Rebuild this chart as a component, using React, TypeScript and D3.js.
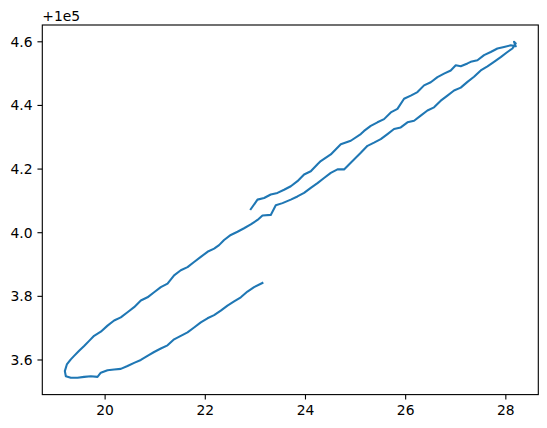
import React from "react";
import * as d3 from "d3";

const Y_OFFSET = 1e5;
const OFFSET_LABEL = "+1e5";

// x values of the path (in order)
const xValues = [
  23.14, 22.974, 22.842, 22.709, 22.575, 22.443, 22.309, 22.176, 22.044, 21.91,
  21.776, 21.645, 21.511, 21.377, 21.246, 21.112, 20.978, 20.846, 20.713, 20.579,
  20.447, 20.313, 20.18, 20.048, 19.914, 19.848, 19.715, 19.581, 19.449, 19.315,
  19.216, 19.196, 19.236, 19.315, 19.381, 19.481, 19.581, 19.681, 19.78, 19.914,
  20.048, 20.18, 20.313, 20.447, 20.579, 20.713, 20.846, 20.978, 21.112, 21.246,
  21.377, 21.511, 21.645, 21.776, 21.91, 22.044, 22.176, 22.275, 22.375, 22.509,
  22.643, 22.774, 22.908, 23.042, 23.142, 23.307, 23.407, 23.541, 23.707, 23.84,
  23.972, 24.106, 24.24, 24.371, 24.505, 24.639, 24.77, 24.904, 25.104, 25.238,
  25.369, 25.503, 25.637, 25.768, 25.902, 26.036, 26.168, 26.301, 26.435, 26.567,
  26.701, 26.834, 26.966, 27.1, 27.234, 27.365, 27.499, 27.633, 27.764, 27.898,
  28.032, 28.132, 28.198, 28.164, 28.198, 28.098, 27.964, 27.832, 27.698, 27.565,
  27.433, 27.299, 27.234, 27.1, 27.0, 26.9, 26.766, 26.635, 26.501,
  26.367, 26.236, 26.102, 25.968, 25.836, 25.703, 25.569, 25.437, 25.303, 25.17,
  25.104, 24.904, 24.705, 24.505, 24.305, 24.24, 24.106, 23.972, 23.84, 23.707,
  23.573, 23.441, 23.307, 23.174, 23.042, 22.908,
];

// y values minus the 1e5 offset (in order)
const yValues = [
  3.842, 3.829, 3.815, 3.797, 3.784, 3.771, 3.755, 3.741, 3.731, 3.718,
  3.702, 3.687, 3.676, 3.665, 3.646, 3.636, 3.625, 3.613, 3.6, 3.591,
  3.581, 3.572, 3.57, 3.568, 3.56, 3.547, 3.549, 3.547, 3.544, 3.544,
  3.549, 3.565, 3.586, 3.602, 3.613, 3.629, 3.644, 3.660, 3.676, 3.689,
  3.708, 3.724, 3.734, 3.75, 3.766, 3.787, 3.797, 3.813, 3.829, 3.84,
  3.866, 3.882, 3.892, 3.908, 3.924, 3.94, 3.95, 3.961, 3.977, 3.993,
  4.003, 4.014, 4.026, 4.04, 4.054, 4.056, 4.086, 4.093, 4.104, 4.114,
  4.125, 4.141, 4.156, 4.172, 4.188, 4.199, 4.199, 4.22, 4.251, 4.273,
  4.283, 4.294, 4.31, 4.326, 4.331, 4.347, 4.352, 4.368, 4.384, 4.394,
  4.415, 4.431, 4.447, 4.456, 4.474, 4.49, 4.51, 4.523, 4.537, 4.552,
  4.568, 4.579, 4.595, 4.6, 4.586, 4.589, 4.584, 4.579, 4.568, 4.558,
  4.542, 4.537, 4.532, 4.523, 4.526, 4.51, 4.5, 4.489, 4.473,
  4.463, 4.442, 4.431, 4.421, 4.389, 4.378, 4.357, 4.347, 4.336, 4.32,
  4.31, 4.289, 4.278, 4.246, 4.225, 4.215, 4.193, 4.183, 4.162, 4.146,
  4.135, 4.125, 4.12, 4.109, 4.104, 4.074,
];

const xTicks = [20, 22, 24, 26, 28];
const yTicks = [3.6, 3.8, 4.0, 4.2, 4.4, 4.6];

const W = 547;
const H = 428;
const L = 42.3;
const R = 538.3;
const T = 25;
const B = 394.6;
const PT = 100 / 72;
const FONT = "DejaVu Sans, sans-serif";
const FS = 10 * PT;

function padded(ext: [number, number]): [number, number] {
  const r = ext[1] - ext[0];
  return [ext[0] - 0.05 * r, ext[1] + 0.05 * r];
}

export default function App() {
  const pts = xValues.map((x, i) => ({ x, y: yValues[i] + Y_OFFSET }));
  const xs = d3.scaleLinear().domain(padded(d3.extent(pts, (d) => d.x) as [number, number])).range([L, R]);
  const ys = d3.scaleLinear().domain(padded(d3.extent(pts, (d) => d.y) as [number, number])).range([B, T]);
  const line = d3
    .line<{ x: number; y: number }>()
    .x((d) => xs(d.x))
    .y((d) => ys(d.y));
  const tickLen = 3.5 * PT;
  const pad = 3.5 * PT;

  return (
    <svg
      width={W}
      height={H}
      style={{ position: "absolute", left: 0, top: 0, background: "#fff" }}
      fontFamily={FONT}
    >
      <rect x={0} y={0} width={W} height={H} fill="#fff" />
      <path
        d={line(pts) || ""}
        fill="none"
        stroke="#1f77b4"
        strokeWidth={1.5 * PT}
        strokeLinejoin="round"
        strokeLinecap="square"
      />
      <rect x={L} y={T} width={R - L} height={B - T} fill="none" stroke="#000" strokeWidth={0.8 * PT} />
      {xTicks.map((t) => (
        <g key={"x" + t}>
          <line x1={xs(t)} x2={xs(t)} y1={B} y2={B + tickLen} stroke="#000" strokeWidth={0.8 * PT} />
          <text x={xs(t)} y={B + tickLen + pad + 10.3} textAnchor="middle" fontSize={FS} fill="#000">
            {t}
          </text>
        </g>
      ))}
      {yTicks.map((t) => (
        <g key={"y" + t}>
          <line
            x1={L - tickLen}
            x2={L}
            y1={ys(t + Y_OFFSET)}
            y2={ys(t + Y_OFFSET)}
            stroke="#000"
            strokeWidth={0.8 * PT}
          />
          <text
            x={L - tickLen - pad}
            y={ys(t + Y_OFFSET)}
            dy="0.36em"
            textAnchor="end"
            fontSize={FS}
            fill="#000"
          >
            {t.toFixed(1)}
          </text>
        </g>
      ))}
      <text x={L} y={T - 4} fontSize={FS} fill="#000">
        {OFFSET_LABEL}
      </text>
    </svg>
  );
}
